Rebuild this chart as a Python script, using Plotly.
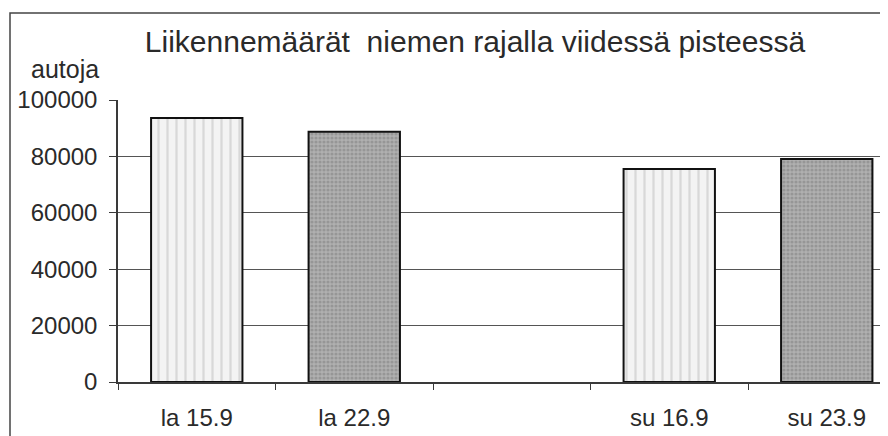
import plotly.graph_objects as go

# Data
CATEGORIES = ['la 15.9', 'la 22.9', ' ', 'su 16.9', 'su 23.9']
WEEK1_DAYS = ['la 15.9', 'su 16.9']
WEEK1_CARS = [93600, 75500]
WEEK2_DAYS = ['la 22.9', 'su 23.9']
WEEK2_CARS = [88700, 79100]
Y_TICKS = [0, 20000, 40000, 60000, 80000, 100000]

TEXT_COLOR = '#2a2a2a'
LINE_COLOR = '#3a3a3a'
FONT = 'Liberation Sans, Arial, sans-serif'

# page body has an 8px margin, so the figure is laid out 8px up/left
W, H = 880, 428
L, T, B = 110, 92, 54
PW, PH = W - L, H - T - B

fig = go.Figure()

fig.add_trace(go.Bar(
    x=WEEK1_DAYS, y=WEEK1_CARS, width=0.58,
    marker=dict(
        color='#f3f3f3',
        line=dict(color='#111111', width=2),
        pattern=dict(shape='|', fgcolor='#bdbdbd', bgcolor='#f3f3f3', size=9, solidity=0.25),
    ),
    showlegend=False,
))
fig.add_trace(go.Bar(
    x=WEEK2_DAYS, y=WEEK2_CARS, width=0.58,
    marker=dict(
        color='#a4a4a4',
        line=dict(color='#111111', width=2),
        pattern=dict(shape='.', fgcolor='#7c7c7c', bgcolor='#b0b0b0', size=4, solidity=0.5),
    ),
    showlegend=False,
))

fig.update_layout(
    width=W, height=H,
    paper_bgcolor='white', plot_bgcolor='white',
    font=dict(family=FONT, size=24, color=TEXT_COLOR),
    margin=dict(l=L, r=0, t=T, b=B),
    barmode='overlay',
    title=dict(
        text='Liikennemäärät  niemen rajalla viidessä pisteessä',
        x=467 / W, xanchor='center', y=1 - 33 / H, yanchor='middle',
        font=dict(size=30, color=TEXT_COLOR),
    ),
    xaxis=dict(
        type='category', categoryorder='array', categoryarray=CATEGORIES,
        range=[-0.5, -0.5 + PW / 157.5],
        showline=True, linecolor=LINE_COLOR, linewidth=1.5,
        ticks='outside', tickson='boundaries', ticklen=6, tickcolor=LINE_COLOR,
        showgrid=False, zeroline=False, ticklabelstandoff=13,
        tickfont=dict(size=24, color=TEXT_COLOR),
    ),
    yaxis=dict(
        range=[0, 100000], tickvals=Y_TICKS, tickformat='d',
        showline=True, linecolor=LINE_COLOR, linewidth=1.5,
        ticks='outside', ticklen=7, tickcolor=LINE_COLOR,
        showgrid=True, gridcolor='#555555', gridwidth=1, zeroline=False,
        ticklabelstandoff=7,
        tickfont=dict(size=24, color=TEXT_COLOR),
    ),
    annotations=[dict(
        text='autoja', xref='paper', yref='paper',
        x=(57 - L) / PW, y=(H - B - 61) / PH, xanchor='center', yanchor='middle',
        showarrow=False, font=dict(size=25, color=TEXT_COLOR),
    )],
    shapes=[dict(
        type='rect', xref='paper', yref='paper',
        x0=(2 - L) / PW, x1=1.2, y0=-0.4, y1=(H - B - 5) / PH,
        line=dict(color='#444444', width=1.5), fillcolor='rgba(0,0,0,0)', layer='below',
    )],
)

fig.write_html('out.html')
